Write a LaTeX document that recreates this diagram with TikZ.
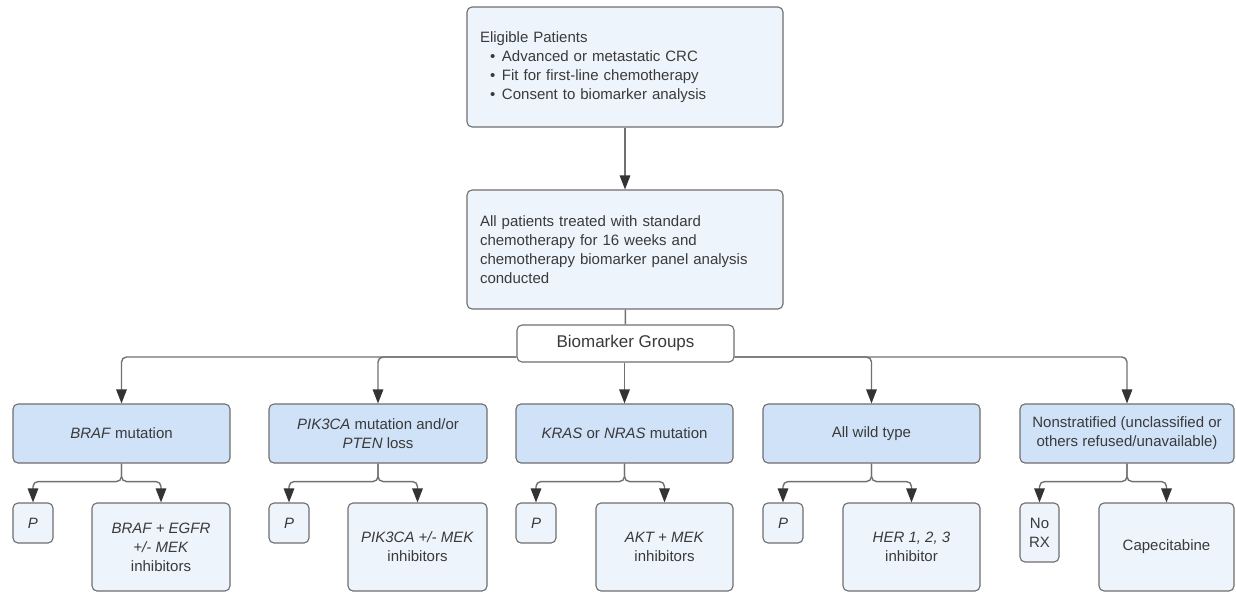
\documentclass[tikz,border=0pt]{standalone}
\usepackage{fontspec}
\setmainfont{Liberation Sans}
\usetikzlibrary{arrows.meta,calc}

\definecolor{edgegray}{HTML}{6E6E6E}
\definecolor{linegray}{HTML}{707070}
\definecolor{tipgray}{HTML}{333333}
\definecolor{inkgray}{HTML}{3A3A3A}
\definecolor{paleblue}{HTML}{EEF4FC}
\definecolor{groupblue}{HTML}{D0E2F8}

\begin{document}
\begin{tikzpicture}[x=1pt,y=-1pt,
  font=\fontsize{15}{19}\selectfont,
  box/.style={draw=edgegray, line width=1.1pt, rounded corners=5pt,
    text=inkgray, inner sep=0pt, align=center, anchor=center},
  infobox/.style={box, fill=paleblue, align=left, text width=290pt,
    inner xsep=13pt, minimum width=316pt},
  groupbox/.style={box, fill=groupblue, minimum height=59pt},
  treatbox/.style={box, fill=paleblue},
  labelbox/.style={box, fill=white},
  conn/.style={draw=linegray, line width=1.4pt, rounded corners=5pt,
    -{Triangle[length=14pt,width=10.5pt,color=tipgray]}}
]
\useasboundingbox (0,0) rectangle (1236,592);

\newcommand{\bitem}[1]{\hspace*{10pt}\makebox[12pt][l]{•}#1}

% Entry and chemotherapy boxes
\node[infobox, minimum height=120pt] (elig) at (625,67)
  {Eligible Patients\\
   \bitem{Advanced or metastatic CRC}\\
   \bitem{Fit for first-line chemotherapy}\\
   \bitem{Consent to biomarker analysis}};
\node[infobox, minimum height=119pt] (chemo) at (625,249.5)
  {All patients treated with standard\\
   chemotherapy for 16 weeks and\\
   chemotherapy biomarker panel analysis\\
   conducted};

% Biomarker grouping
\node[labelbox, minimum width=217pt, minimum height=37pt,
      font=\fontsize{17}{20}\selectfont] (bio) at (625.5,343.5) {Biomarker Groups};

% Biomarker groups
\node[groupbox, minimum width=217pt] (braf) at (121.5,433.5) {\textit{BRAF} mutation};
\node[groupbox, minimum width=218pt] (pik)  at (378,433.5) {\textit{PIK3CA} mutation and/or\\\textit{PTEN} loss};
\node[groupbox, minimum width=217pt] (kras) at (624.5,433.5) {\textit{KRAS} or \textit{NRAS} mutation};
\node[groupbox, minimum width=217pt] (wt)   at (871.5,433.5) {All wild type};
\node[groupbox, minimum width=214pt] (ns)   at (1127,433.5) {Nonstratified (unclassified or\\others refused/unavailable)};

% Treatment arms
\node[treatbox, minimum width=40pt, minimum height=40pt] (p1) at (33,523) {\textit{P}};
\node[treatbox, minimum width=138pt, minimum height=88pt] (t1) at (161,547)
  {\textit{BRAF + EGFR}\\\textit{+/- MEK}\\inhibitors};
\node[treatbox, minimum width=40pt, minimum height=40pt] (p2) at (289,523) {\textit{P}};
\node[treatbox, minimum width=139pt, minimum height=88pt] (t2) at (417.5,547)
  {\textit{PIK3CA +/- MEK}\\inhibitors};
\node[treatbox, minimum width=40pt, minimum height=40pt] (p3) at (536,523) {\textit{P}};
\node[treatbox, minimum width=137pt, minimum height=88pt] (t3) at (664.5,547)
  {\textit{AKT + MEK}\\inhibitors};
\node[treatbox, minimum width=40pt, minimum height=40pt] (p4) at (783,523) {\textit{P}};
\node[treatbox, minimum width=137pt, minimum height=88pt] (t4) at (911.5,547)
  {\textit{HER 1, 2, 3}\\inhibitor};
\node[treatbox, minimum width=39pt, minimum height=59pt] (p5) at (1039.5,532.5) {No\\RX};
\node[treatbox, minimum width=135pt, minimum height=88pt] (t5) at (1166.5,547)
  {Capecitabine};

% Main flow
\draw[conn] (elig) -- (chemo);
\draw[draw=linegray, line width=1.4pt] (chemo) -- (bio);

% Bus to the biomarker groups
\coordinate (bus) at (0,357);
\draw[conn] (bio.west |- bus) -| (braf.north);
\draw[conn] (bio.west |- bus) -| (pik.north);
\draw[conn] (kras.north |- bio.south) -- (kras.north);
\draw[conn] (bio.east |- bus) -| (wt.north);
\draw[conn] (bio.east |- bus) -| (ns.north);

% Branches to the treatment arms
\foreach \g/\a/\b in {braf/p1/t1, pik/p2/t2, kras/p3/t3, wt/p4/t4, ns/p5/t5}{
  \draw[conn] (\g.south) -- ++(0,18) -| (\a.north);
  \draw[conn] (\g.south) -- ++(0,18) -| (\b.north);
}
\end{tikzpicture}
\end{document}
